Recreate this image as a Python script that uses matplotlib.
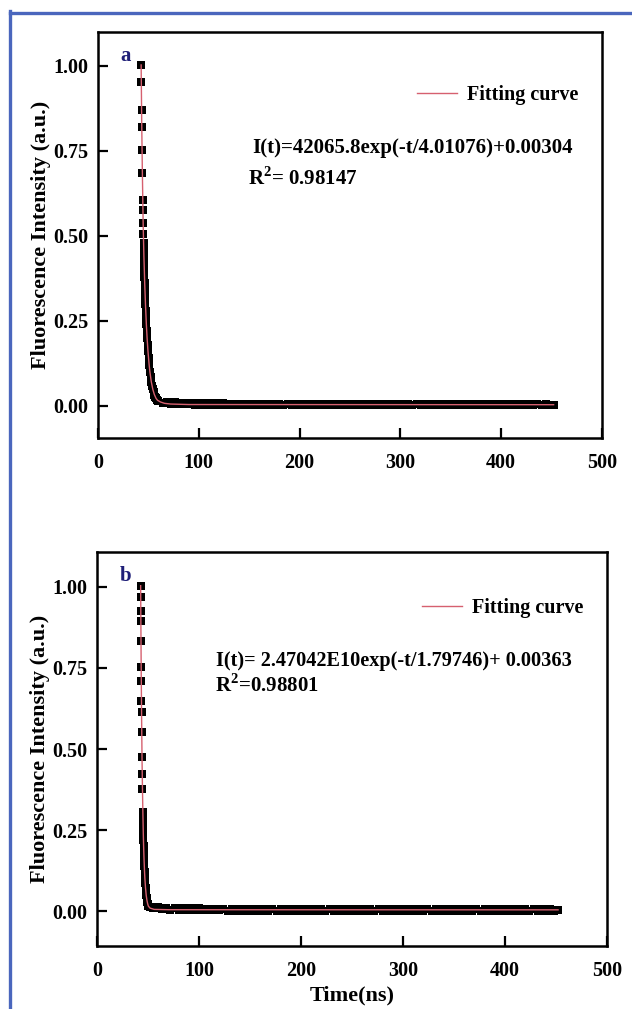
import matplotlib
matplotlib.use("Agg")
import matplotlib.pyplot as plt
from matplotlib.lines import Line2D

plt.rcParams['font.family'] = ['Liberation Serif', 'DejaVu Serif']
plt.rcParams['font.weight'] = 'bold'
plt.rcParams['mathtext.fontset'] = 'custom'
plt.rcParams['mathtext.rm'] = 'Liberation Serif:bold'

# =========================
# DATA
# =========================
# time grid of the flat tail (ns), shared by both panels
t_tail = [60, 64, 68, 72, 76, 80, 84, 88, 92, 96,
          100, 104, 108, 112, 116, 120, 124, 128, 132, 136,
          140, 144, 148, 152, 156, 160, 164, 168, 172, 176,
          180, 184, 188, 192, 196, 200, 204, 208, 212, 216,
          220, 224, 228, 232, 236, 240, 244, 248, 252, 256,
          260, 264, 268, 272, 276, 280, 284, 288, 292, 296,
          300, 304, 308, 312, 316, 320, 324, 328, 332, 336,
          340, 344, 348, 352, 356, 360, 364, 368, 372, 376,
          380, 384, 388, 392, 396, 400, 404, 408, 412, 416,
          420, 424, 428, 432, 436, 440, 444, 448, 452]

# panel a : decay points (ns, a.u.)
ta_decay = [42.8, 42.95, 43.2, 43.4, 43.7, 44.0, 44.35, 44.6, 44.8, 45.0, 45.2,
            45.36, 45.54, 45.73, 45.92, 46.13, 46.34, 46.57, 46.81, 47.07, 47.35,
            47.64, 47.96, 48.31, 48.69, 49.11, 49.59, 50.12, 50.74, 51.47, 52.12,
            52.89, 53.64, 54.4, 55.13, 55.9, 56.7, 57.52, 58.32, 59.05]
Ia_decay = [1.003, 0.953, 0.871, 0.821, 0.753, 0.685, 0.606, 0.575, 0.538, 0.505, 0.479,
            0.46, 0.44, 0.42, 0.40, 0.38, 0.36, 0.34, 0.32, 0.30, 0.28,
            0.26, 0.24, 0.22, 0.20, 0.18, 0.16, 0.14, 0.12, 0.10, 0.085,
            0.07, 0.058, 0.048, 0.040, 0.033, 0.027, 0.022, 0.018, 0.015]
Ia_tail = [0.014, 0.009, 0.012, 0.006, 0.010, 0.005, 0.009, 0.004, 0.008, 0.003,
           0.008, 0.003, 0.007, 0.002, 0.007, 0.002, 0.007, 0.002, 0.006, 0.001,
           0.006, 0.001, 0.006, 0.002, 0.006, 0.001, 0.006, 0.001, 0.006, 0.001,
           0.006, 0.001, 0.006, 0.001, 0.005, 0.001, 0.006, 0.001, 0.005, 0.001,
           0.005, 0.001, 0.005, 0.001, 0.005, 0.001, 0.005, 0.001, 0.005, 0.001,
           0.005, 0.001, 0.005, 0.001, 0.005, 0.001, 0.005, 0.001, 0.005, 0.001,
           0.005, 0.001, 0.005, 0.001, 0.005, 0.001, 0.005, 0.001, 0.005, 0.001,
           0.005, 0.001, 0.005, 0.001, 0.005, 0.001, 0.005, 0.001, 0.005, 0.001,
           0.005, 0.001, 0.005, 0.001, 0.005, 0.001, 0.005, 0.001, 0.005, 0.001,
           0.005, 0.001, 0.005, 0.001, 0.005, 0.001, 0.005, 0.001, 0.003]
# panel a : fitting curve
fit_ta = [42.8, 43.4, 44.0, 44.8, 45.54, 46.34, 47.07, 47.96, 48.69, 49.59,
          50.74, 51.47, 52.89, 54.4, 55.9, 57.52, 59.05, 62, 66, 72, 90, 452]
fit_Ia = [1.003, 0.825, 0.69, 0.535, 0.44, 0.36, 0.30, 0.24, 0.20, 0.16,
          0.12, 0.10, 0.07, 0.048, 0.033, 0.022, 0.016, 0.011, 0.007, 0.005, 0.0035, 0.003]

# panel b : decay points (ns, a.u.)
tb_decay = [42.8, 42.87, 42.94, 43.0, 43.13, 43.32, 43.42, 43.59, 43.69, 43.88,
            44.15, 44.36, 44.56, 44.94, 45.1, 45.23, 45.38, 45.53, 45.7, 45.89,
            46.11, 46.35, 46.62, 46.95, 47.24, 47.59, 47.93, 48.27, 48.6, 48.95,
            49.31, 49.68, 50.04, 50.37, 51.5, 53, 55, 57]
Ib_decay = [1.004, 0.968, 0.927, 0.896, 0.834, 0.752, 0.711, 0.649, 0.613, 0.551,
            0.474, 0.423, 0.377, 0.306, 0.28, 0.26, 0.24, 0.22, 0.20, 0.18,
            0.16, 0.14, 0.12, 0.10, 0.085, 0.07, 0.058, 0.048, 0.040, 0.033,
            0.027, 0.022, 0.018, 0.015, 0.013, 0.011, 0.010, 0.010]
Ib_tail = [0.011, 0.005, 0.010, 0.004, 0.009, 0.003, 0.009, 0.003, 0.008, 0.002,
           0.008, 0.002, 0.007, 0.002, 0.007, 0.002, 0.007, 0.001, 0.006, 0.001,
           0.006, 0.001, 0.006, 0.001, 0.006, 0.001, 0.006, 0.001, 0.006, 0.001,
           0.006, 0.001, 0.006, 0.001, 0.006, 0.001, 0.005, 0.001, 0.005, 0.001,
           0.005, 0.001, 0.005, 0.001, 0.005, 0.001, 0.005, 0.001, 0.005, 0.001,
           0.005, 0.001, 0.005, 0.001, 0.005, 0.001, 0.005, 0.001, 0.005, 0.001,
           0.005, 0.001, 0.005, 0.001, 0.005, 0.001, 0.005, 0.001, 0.005, 0.001,
           0.005, 0.001, 0.005, 0.001, 0.005, 0.001, 0.005, 0.001, 0.005, 0.001,
           0.005, 0.001, 0.005, 0.001, 0.005, 0.001, 0.005, 0.001, 0.005, 0.001,
           0.005, 0.001, 0.005, 0.001, 0.005, 0.001, 0.005, 0.001, 0.003]
# panel b : fitting curve
fit_tb = [42.8, 43.0, 43.32, 43.59, 43.88, 44.15, 44.56, 44.94, 45.38, 45.7,
          46.11, 46.62, 46.95, 47.59, 48.27, 48.95, 49.68, 50.37, 52, 56, 70, 452]
fit_Ib = [1.004, 0.90, 0.75, 0.65, 0.55, 0.47, 0.38, 0.31, 0.24, 0.20,
          0.16, 0.12, 0.10, 0.07, 0.048, 0.033, 0.022, 0.015, 0.009, 0.005, 0.004, 0.0036]

labels = ['a', 'b']
equations = ['I(t)=42065.8exp(-t/4.01076)+0.00304',
             'I(t)= 2.47042E10exp(-t/1.79746)+ 0.00363']
r2_texts = ['R$^2$= 0.98147', 'R$^2$=0.98801']
yticks = [0.00, 0.25, 0.50, 0.75, 1.00]
xticks = [0, 100, 200, 300, 400, 500]

# =========================
# FIGURE
# =========================
fig = plt.figure(figsize=(6.32, 10.09), dpi=100)

# blue frame (top and left edge)
fig.add_artist(Line2D([10 / 632, 1.0], [1 - 12.5 / 1009, 1 - 12.5 / 1009],
                      transform=fig.transFigure, color='#4a66bd', lw=2.4))
fig.add_artist(Line2D([10.5 / 632, 10.5 / 632], [0.0, 1 - 11 / 1009],
                      transform=fig.transFigure, color='#4a66bd', lw=2.4))

ax_a = fig.add_axes([98 / 632, 1 - 438 / 1009, 504 / 632, 406 / 1009])
ax_b = fig.add_axes([97 / 632, 1 - 946 / 1009, 510 / 632, 394 / 1009])

# ax, t, y, fit t, fit y, ylim, label y, legend y, eq x, eq y, eq size, r2 x, r2 y
panels = [
    (ax_a, ta_decay + t_tail, Ia_decay + Ia_tail, fit_ta, fit_Ia, (-0.095, 1.1),
     0.94, 0.845, 0.9425, 0.714, 15, 0.298, 0.640),
    (ax_b, tb_decay + t_tail, Ib_decay + Ib_tail, fit_tb, fit_Ib, (-0.108, 1.108),
     0.94, 0.858, 0.931, 0.723, 14.6, 0.231, 0.660),
]

for i, (ax, t, y, ft, fy, ylim, lab_y, leg_y, eq_x, eq_y, eq_fs, r2_x, r2_y) in enumerate(panels):
    ax.plot(t, y, 's', color='black', ms=6.2, mew=0, zorder=2)
    ax.plot(ft, fy, '-', color='#d6606f', lw=1.0, zorder=3, label='Fitting curve')

    ax.set_xlim(0, 500)
    ax.set_ylim(*ylim)
    ax.set_xticks(xticks)
    ax.set_yticks(yticks)
    ax.set_yticklabels(['%.2f' % v for v in yticks])
    ax.tick_params(direction='in', length=7, width=1.6, labelsize=14.5,
                   top=False, right=False)
    ax.tick_params(axis='x', pad=11)
    ax.tick_params(axis='y', pad=7)
    for lab in ax.get_xticklabels() + ax.get_yticklabels():
        lab.set_fontweight('bold')
    for sp in ax.spines.values():
        sp.set_linewidth(1.8)

    ax.set_ylabel('Fluorescence Intensity (a.u.)', fontsize=16, fontweight='bold')
    ax.yaxis.set_label_coords(-0.093, 0.5)

    ax.text(0.044, lab_y, labels[i], transform=ax.transAxes,
            color='#1f1f78', fontsize=15, fontweight='bold', ha='left', va='center')

    leg = ax.legend(loc='center right', bbox_to_anchor=(0.99, leg_y), frameon=False,
                    fontsize=14.5, handlelength=2.0, handletextpad=0.5)
    for txt in leg.get_texts():
        txt.set_fontweight('bold')

    ax.text(eq_x, eq_y, equations[i], transform=ax.transAxes, fontsize=eq_fs,
            fontweight='bold', ha='right', va='center')
    ax.text(r2_x, r2_y, r2_texts[i], transform=ax.transAxes, fontsize=15,
            fontweight='bold', ha='left', va='center')

ax_b.set_xlabel('Time(ns)', fontsize=16, fontweight='bold', labelpad=3)

plt.savefig("out.png", dpi=100)
